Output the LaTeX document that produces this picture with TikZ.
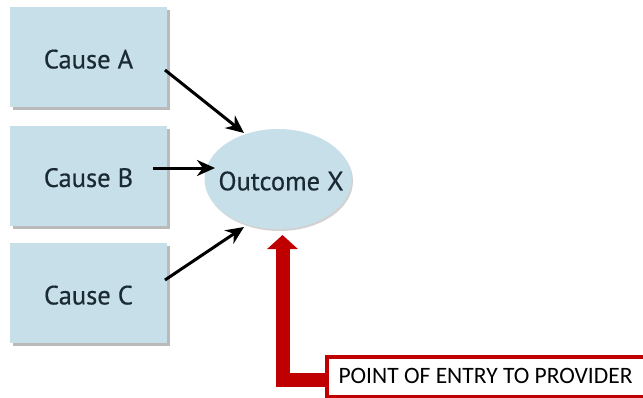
\documentclass[tikz,border=0pt]{standalone}
\usepackage{fontspec}
\setmainfont{PT Sans}
\newfontfamily\medfont[FakeBold=0.5]{PT Sans}
\newfontfamily\calib{Carlito}
\usetikzlibrary{arrows.meta,shadows,shapes.geometric}
\definecolor{boxblue}{HTML}{C6DFE8}
\definecolor{entryred}{HTML}{C00000}
\definecolor{txt}{HTML}{1A2A33}
\tikzset{
  causebox/.style={rectangle, fill=boxblue, minimum width=157pt, minimum height=100pt,
    inner sep=0pt, text=txt, font=\medfont\fontsize{26.5}{28}\selectfont, text depth=0pt,
    drop shadow={shadow xshift=2.5pt, shadow yshift=-2.5pt, fill=black!45, opacity=0.6}},
  outcome/.style={ellipse, fill=boxblue, minimum width=147pt, minimum height=100pt,
    inner sep=0pt,
    drop shadow={shadow xshift=1.5pt, shadow yshift=-2pt, fill=black!35, opacity=0.5}},
  outtext/.style={text=txt, font=\medfont\fontsize{26.5}{28}\selectfont, inner sep=0pt},
  causearrow/.style={line width=3pt, -{Stealth[length=18pt,width=16pt]}},
  entrybox/.style={rectangle, draw=entryred, line width=4pt, fill=white, minimum width=325pt,
    minimum height=40pt, inner sep=0pt, anchor=north west},
  entrytext/.style={font=\calib\fontsize{23.5}{25}\selectfont, text=black, anchor=west},
  entryarrow/.style={draw=entryred, line width=14pt,
    -{Triangle[length=14pt,width=30pt]}}
}
\begin{document}
\begin{tikzpicture}[x=1pt,y=-1pt]
\useasboundingbox (0,0) rectangle (643,397);
\node[causebox] (a) at (88.5,57) {\raisebox{-4pt}{Cause A}};
\node[causebox] (b) at (88.5,176) {\raisebox{-3pt}{Cause B}};
\node[causebox] (c) at (88.5,293) {\raisebox{-4pt}{Cause C}};
\node[outcome] (x) at (278,179) {};
\node[outtext] (xt) at (281,181) {Outcome X};
\coordinate (a0) at (165,70);
\coordinate (b0) at (153,168);
\coordinate (c0) at (165,280);
\coordinate (atip) at (244,133);
\coordinate (btip) at (215,168);
\coordinate (ctip) at (244,227);
\draw[causearrow] (a0) -- (atip);
\draw[causearrow] (b0) -- (btip);
\draw[causearrow] (c0) -- (ctip);
\coordinate (rtip) at (282.5,235);
\draw[entryarrow] (326,380) -| (rtip);
\node[entrybox] (e) at (325,355) {};
\node[entrytext] (et) at (335,376) {POINT OF ENTRY TO PROVIDER};
\end{tikzpicture}
\end{document}
